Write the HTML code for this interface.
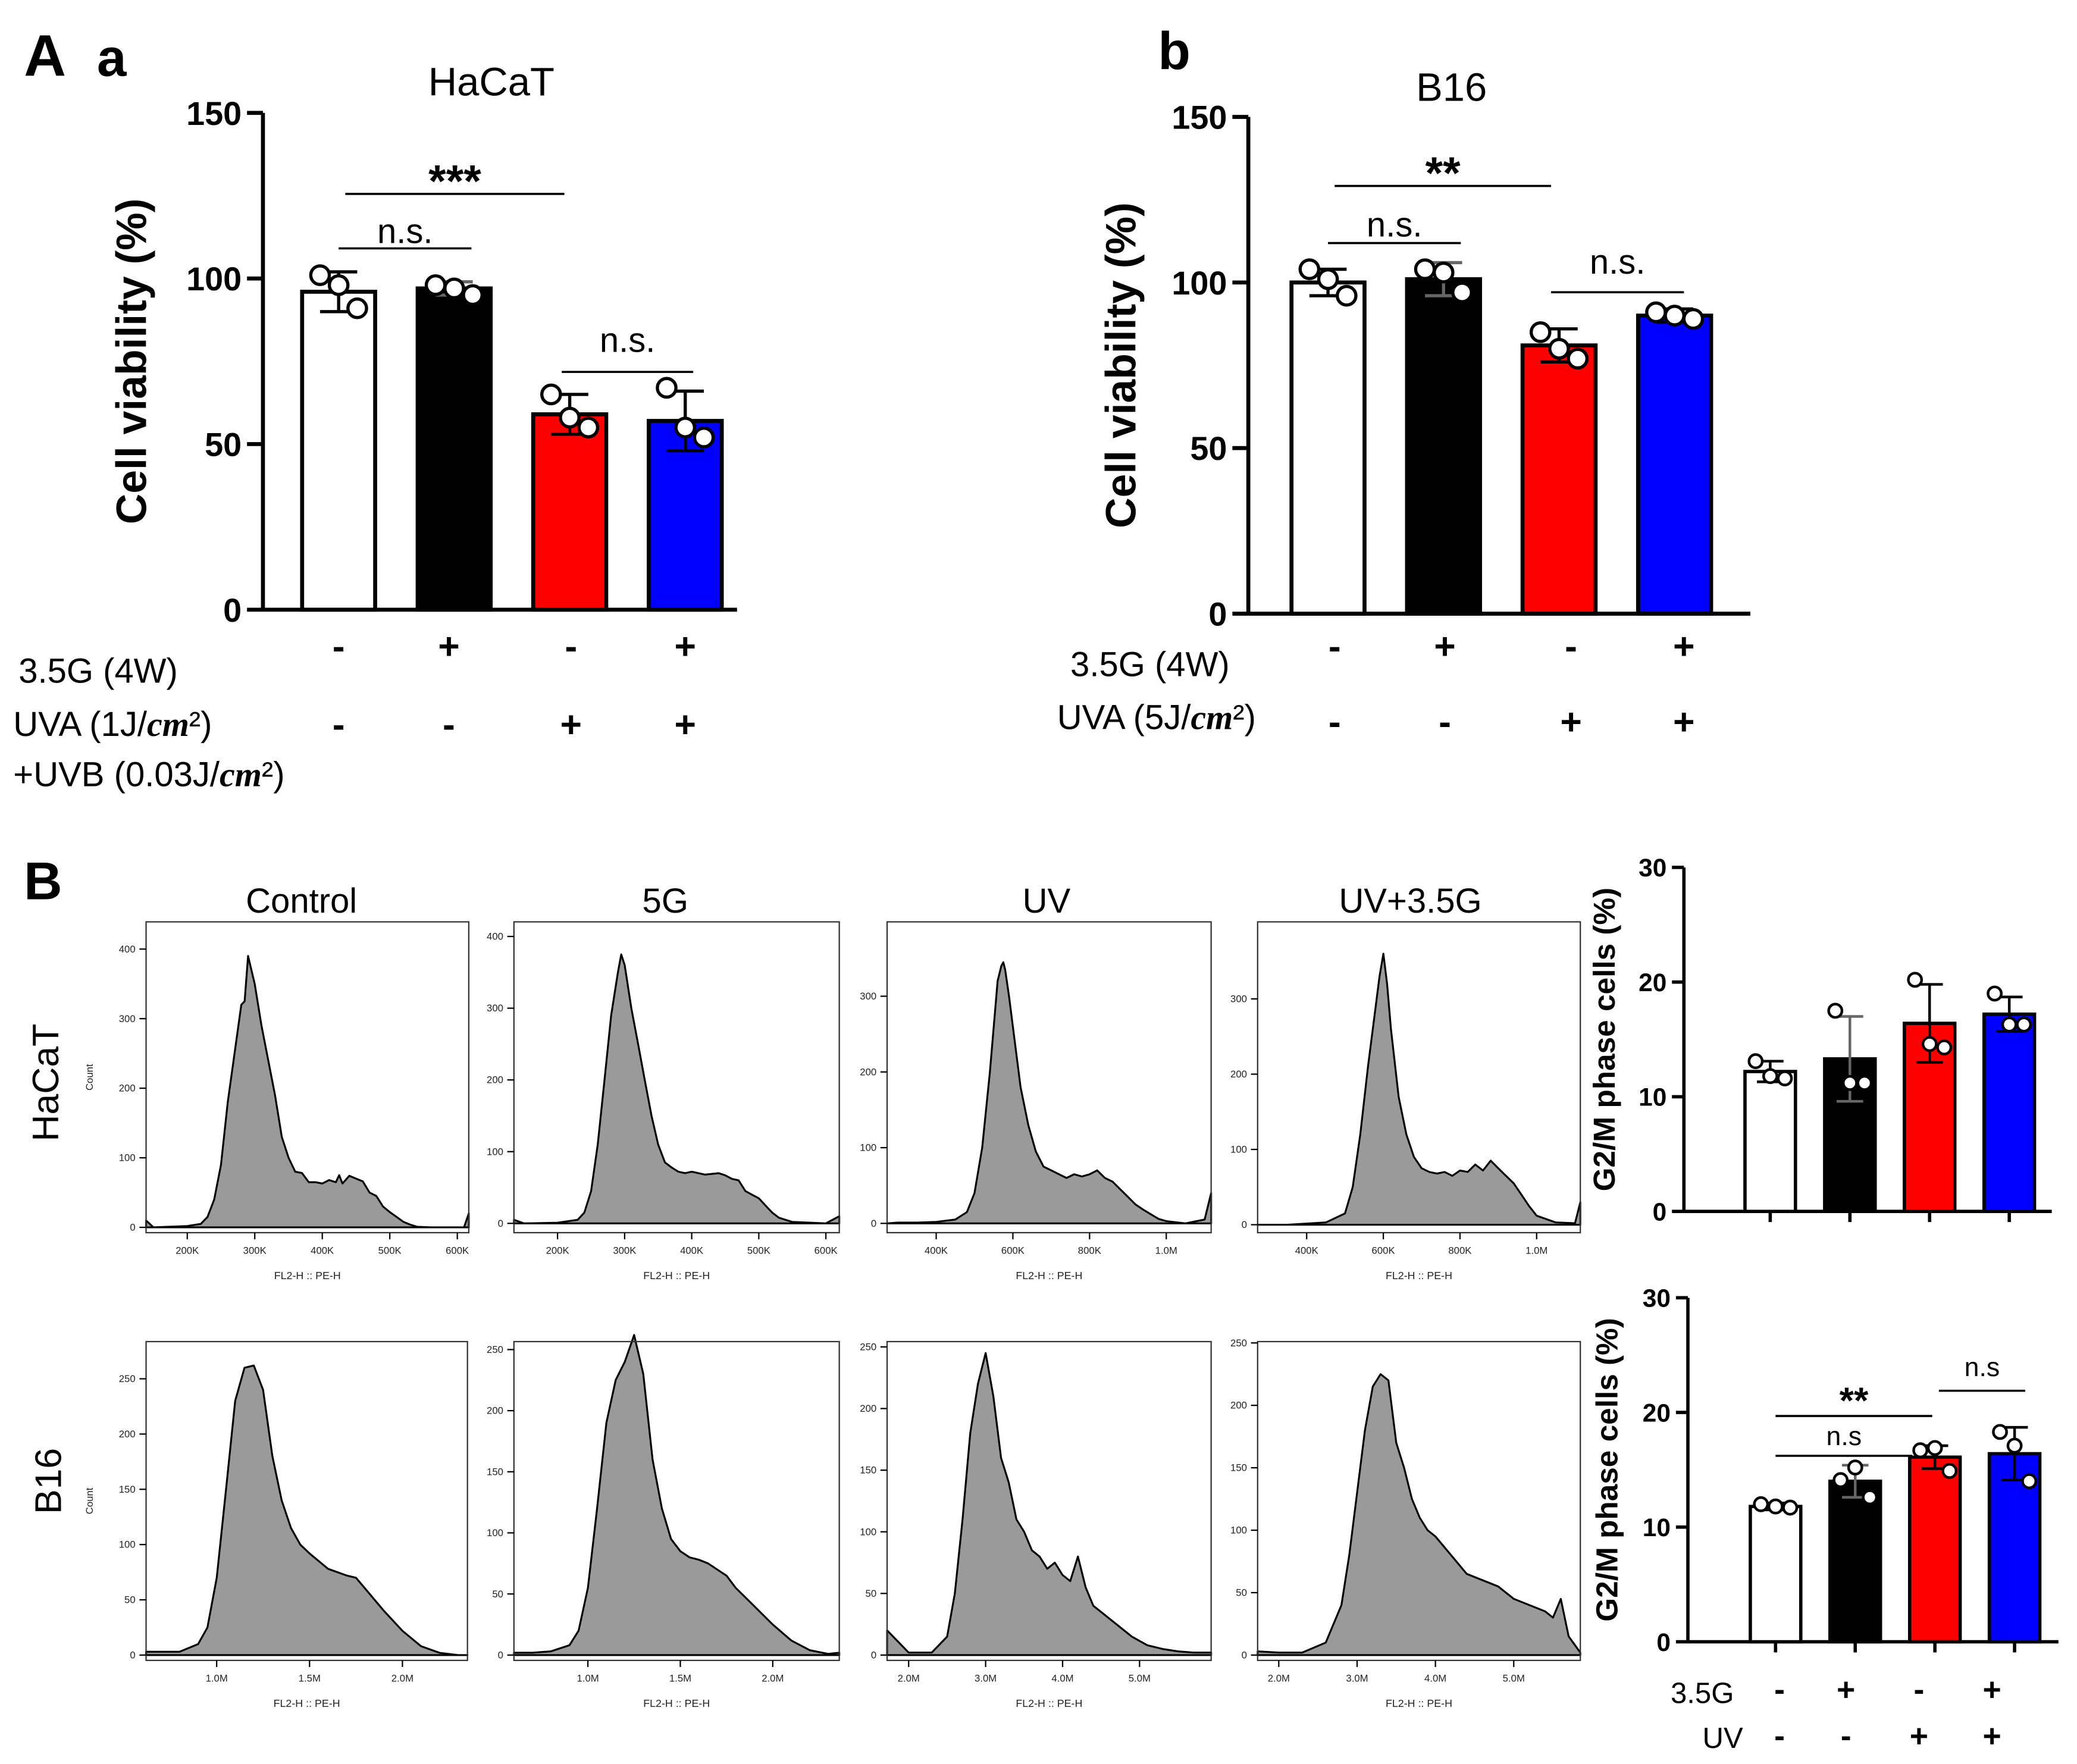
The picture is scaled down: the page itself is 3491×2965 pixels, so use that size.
<!DOCTYPE html>
<html><head><meta charset="utf-8"><style>
html,body{margin:0;padding:0;background:#fff;}
svg{display:block;}
</style></head><body>
<svg id="fig" xmlns="http://www.w3.org/2000/svg" width="3491" height="2965" viewBox="0 0 1564 1328" preserveAspectRatio="none" font-family="'Liberation Sans', Arial, sans-serif">
<rect x="0" y="0" width="1564" height="1328" fill="#fff"/>
<text x="18" y="57" font-size="44" font-weight="bold">A</text>
<text x="73" y="57" font-size="40" font-weight="bold">a</text>
<text x="872" y="52" font-size="40" font-weight="bold">b</text>
<text x="18" y="677" font-size="40" font-weight="bold">B</text>
<text x="370" y="72" font-size="30" text-anchor="middle">HaCaT</text>
<text x="1093" y="76" font-size="30" text-anchor="middle">B16</text>
<text x="14" y="514" font-size="26">3.5G (4W)</text>
<text x="10" y="554" font-size="26">UVA (1J/<tspan font-family="'Liberation Serif',serif" font-style="italic" font-weight="bold">cm</tspan>²)</text>
<text x="10" y="592" font-size="26">+UVB (0.03J/<tspan font-family="'Liberation Serif',serif" font-style="italic" font-weight="bold">cm</tspan>²)</text>
<text x="806" y="509" font-size="26">3.5G (4W)</text>
<text x="796" y="549" font-size="26">UVA (5J/<tspan font-family="'Liberation Serif',serif" font-style="italic" font-weight="bold">cm</tspan>²)</text>
<text x="1258" y="1282" font-size="22">3.5G</text>
<text x="1282" y="1316" font-size="22">UV</text>
<text x="227" y="687" font-size="26" text-anchor="middle">Control</text>
<text x="501" y="687" font-size="26" text-anchor="middle">5G</text>
<text x="788" y="687" font-size="26" text-anchor="middle">UV</text>
<text x="1062" y="687" font-size="26" text-anchor="middle">UV+3.5G</text>
<text transform="translate(44,815) rotate(-90)" font-size="28" text-anchor="middle">HaCaT</text>
<text transform="translate(46,1115) rotate(-90)" font-size="28" text-anchor="middle">B16</text>
<g id="root"></g>
</svg>
<script>
const groupColors = ['#ffffff', '#000000', '#ff0000', '#0000ff'];
const Aa_means = [96, 97, 59, 57];
const Aa_err = [6, 2, 6, 9];
const Aa_pts = [[101, 98, 91], [98, 97, 95], [65, 58, 55], [67, 55, 52]];
const Ab_means = [100, 101, 81, 90];
const Ab_err = [4, 5, 5, 2];
const Ab_pts = [[104, 101, 96], [104, 103, 97], [85, 80, 77], [91, 90, 89]];
const Bt_means = [12.2, 13.3, 16.4, 17.2];
const Bt_err = [0.9, 3.7, 3.4, 1.5];
const Bt_pts = [[13.1, 11.8, 11.6], [17.5, 11.2, 11.2], [20.2, 14.6, 14.3], [19.0, 16.3, 16.3]];
const Bb_means = [11.8, 14.0, 16.1, 16.4];
const Bb_err = [0.3, 1.4, 1.0, 2.3];
const Bb_pts = [[12.0, 11.8, 11.7], [14.1, 15.2, 12.6], [16.7, 16.9, 14.9], [18.3, 17.1, 14.0]];
const ticksA = [0, 50, 100, 150];
const ticksB = [0, 10, 20, 30];
const row35G = ['-', '+', '-', '+'];
const rowUV = ['-', '-', '+', '+'];

const h1_x = [139,150,200,220,230,240,250,260,270,280,285,290,300,310,320,330,340,350,360,370,380,390,400,410,420,425,430,440,450,460,470,480,490,500,510,520,530,540,560,610,617];
const h1_c = [10,0,2,5,15,40,90,180,250,320,325,390,350,290,240,190,130,100,80,78,65,65,63,68,65,75,63,74,70,66,50,45,30,22,15,8,4,1,0,0,20];
const h2_x = [135,150,200,230,240,250,260,270,280,290,295,300,310,320,330,340,350,360,370,380,390,400,420,440,450,460,470,480,490,500,510,520,530,550,600,620];
const h2_c = [5,0,1,5,15,45,110,200,290,350,375,360,300,250,200,150,110,85,78,72,70,72,68,70,67,62,60,45,40,35,25,15,8,2,0,10];
const h3_x = [272,300,350,400,450,480,500,520,540,550,560,570,575,580,590,600,620,640,660,680,700,720,740,760,780,800,820,840,860,880,900,920,940,960,980,1000,1050,1100,1117];
const h3_c = [0,1,1,2,5,15,40,100,200,260,320,340,345,335,300,260,180,130,95,75,70,65,60,65,62,65,70,60,55,45,35,25,18,12,6,3,0,5,40];
const h4_x = [272,350,450,500,520,540,560,580,590,600,610,620,640,660,680,700,720,740,760,780,800,820,840,860,880,900,920,940,960,980,1000,1050,1100,1114];
const h4_c = [0,0,3,15,50,120,210,290,330,360,320,260,170,120,90,75,70,68,70,65,72,70,80,72,85,75,65,55,40,25,12,3,2,30];
const h5_x = [0.62,0.7,0.8,0.9,0.95,1.0,1.05,1.1,1.15,1.2,1.25,1.3,1.35,1.4,1.45,1.5,1.55,1.6,1.65,1.7,1.75,1.8,1.9,2.0,2.1,2.2,2.3,2.35];
const h5_c = [3,3,3,10,25,70,150,230,260,262,240,180,140,115,100,92,85,78,75,72,70,60,40,22,8,2,0,0];
const h6_x = [0.60,0.7,0.8,0.9,0.95,1.0,1.05,1.1,1.15,1.2,1.25,1.3,1.35,1.4,1.45,1.5,1.55,1.6,1.65,1.7,1.75,1.8,1.9,2.0,2.1,2.2,2.3,2.36];
const h6_c = [2,2,3,8,20,55,120,190,225,240,262,230,160,120,95,85,80,78,75,70,65,55,40,25,12,4,1,2];
const h7_x = [1.72,2.0,2.3,2.5,2.6,2.7,2.8,2.9,3.0,3.1,3.2,3.3,3.4,3.5,3.6,3.7,3.8,3.9,4.0,4.1,4.2,4.3,4.4,4.5,4.7,4.9,5.1,5.3,5.5,5.7,5.93];
const h7_c = [20,2,2,15,50,110,180,220,245,210,160,140,110,100,85,80,70,75,65,60,80,55,40,35,25,15,8,5,3,2,2];
const h8_x = [1.73,2.0,2.3,2.6,2.8,2.9,3.0,3.1,3.2,3.3,3.4,3.5,3.6,3.7,3.8,3.9,4.0,4.2,4.4,4.6,4.8,5.0,5.2,5.4,5.5,5.6,5.7,5.85];
const h8_c = [3,2,2,10,40,80,130,180,215,225,220,170,150,125,110,100,95,80,65,60,55,45,40,35,30,45,15,2];
const hK_ticks = [200,300,400,500,600];
const hK_labels = ['200K','300K','400K','500K','600K'];
const hUV_ticks = [400,600,800,1000];
const hUV_labels = ['400K','600K','800K','1.0M'];
const hM_ticks = [1.0,1.5,2.0];
const hM_labels = ['1.0M','1.5M','2.0M'];
const hM2_ticks = [2,3,4,5];
const hM2_labels = ['2.0M','3.0M','4.0M','5.0M'];
const yT400 = [0,100,200,300,400];
const yT300 = [0,100,200,300];
const yT250 = [0,50,100,150,200,250];

const NS = 'http://www.w3.org/2000/svg';
const root = document.getElementById('root');
function mk(tag, attrs, parent) {
  const e = document.createElementNS(NS, tag);
  for (const k in attrs) e.setAttribute(k, attrs[k]);
  (parent || root).appendChild(e);
  return e;
}

function barChart(o) {
  const g = mk('g', {});
  
  
  const ys = v => o.y0 - (v - o.ticks[0]) / (o.ticks[o.ticks.length-1] - o.ticks[0]) * (o.y0 - o.yTop);
  const xs = i => o.x0 + o.first + i * o.step;
  const ya = mk('line', {x1:o.axX, y1:o.yTop, x2:o.axX, y2:o.y0, stroke:'#000', 'stroke-width':o.lw}, g);
  
  
  const xa = mk('line', {x1:o.axX, y1:o.y0, x2:o.xEnd, y2:o.y0, stroke:'#000', 'stroke-width':o.lw}, g);
  
  
  o.ticks.forEach(t => {
    const tl = mk('line', {x1:o.axX - o.tickLen, y1:ys(t), x2:o.axX, y2:ys(t), stroke:'#000', 'stroke-width':o.lw}, g);
    
    
    const tx = mk('text', {x:o.axX - o.tickLen - 4, y:ys(t) + o.fs*0.36, 'font-size':o.fs, 'font-weight':'bold', 'text-anchor':'end'}, g);
    tx.textContent = t;
    
    
  });
  const yl = mk('text', {transform:`translate(${o.ylX},${(o.yTop+o.y0)/2}) rotate(-90)`, 'font-size':o.ylFs, 'font-weight':'bold', 'text-anchor':'middle'}, g);
  yl.textContent = o.ylabel;
  
  
  o.means.forEach((m, i) => {
    const cx = xs(i);
    const b = mk('rect', {x:cx - o.bw/2, y:ys(m), width:o.bw, height:o.y0 - ys(m), fill:groupColors[i], stroke:'#000', 'stroke-width':o.lw}, g);
    
    
    if (o.xticks) {
      const xt = mk('line', {x1:cx, y1:o.y0, x2:cx, y2:o.y0 + 8, stroke:'#000', 'stroke-width':o.lw}, g);
      
      
    }
    const e = o.err[i];
    const eb = mk('path', {d:`M${cx},${ys(m-e)}V${ys(m+e)}M${cx-o.cap},${ys(m+e)}H${cx+o.cap}M${cx-o.cap},${ys(m-e)}H${cx+o.cap}`, stroke: i===1 ? '#666' : '#000', 'stroke-width':o.lw*0.8, fill:'none'}, g);
    
    
    o.pts[i].forEach((p, j) => {
      const c = mk('circle', {cx:cx + (j-1)*o.dx, cy:ys(p), r:o.r, fill:'#fff', stroke:'#000', 'stroke-width':o.lw*0.8}, g);
      
      
    });
  });
  return {g, xs, ys};
}

function sig(g, x1, x2, y, label, fs, ty) {
  const l = mk('line', {x1, y1:y, x2, y2:y, stroke:'#000', 'stroke-width':1.6}, g);
  
  
  const t = mk('text', {x:(x1+x2)/2, y:ty, 'font-size':fs, 'text-anchor':'middle', 'font-weight': label.indexOf('*')>=0 ? 'bold':'normal'}, g);
  t.textContent = label;
  
  
}
function signRow(xsArr, y, arr, fs) {
  arr.forEach((s, i) => {
    const t = mk('text', {x:xsArr[i], y, 'font-size':fs, 'font-weight':'bold', 'text-anchor':'middle'});
    t.textContent = s;
    
    
  });
}

const ca = barChart({name:'chart-hacat-viability', means:Aa_means, err:Aa_err, pts:Aa_pts, ticks:ticksA,
  axX:198, x0:198, first:57, step:87, bw:55, y0:459, yTop:85, xEnd:555, lw:3, tickLen:12, fs:25,
  ylX:110, ylFs:32, ylabel:'Cell viability (%)', cap:14, r:7, dx:14, xticks:false});
sig(ca.g, 260, 425, 146, '***', 34, 148);
sig(ca.g, 255, 355, 187, 'n.s.', 26, 183);
sig(ca.g, 423, 522, 280, 'n.s.', 26, 265);
signRow([255,338,430,516], 496, row35G, 28);
signRow([255,338,430,516], 555, rowUV, 28);

const cb = barChart({name:'chart-b16-viability', means:Ab_means, err:Ab_err, pts:Ab_pts, ticks:ticksA,
  axX:940, x0:940, first:60, step:87, bw:55, y0:462, yTop:88, xEnd:1318, lw:3, tickLen:12, fs:25,
  ylX:855, ylFs:32, ylabel:'Cell viability (%)', cap:14, r:7, dx:14, xticks:false});
sig(cb.g, 1005, 1168, 140, '**', 34, 142);
sig(cb.g, 1000, 1100, 183, 'n.s.', 26, 178);
sig(cb.g, 1168, 1268, 220, 'n.s.', 26, 206);
signRow([1005,1088,1183,1268], 496, row35G, 28);
signRow([1005,1088,1183,1268], 553, rowUV, 28);

barChart({name:'chart-g2m-hacat', means:Bt_means, err:Bt_err, pts:Bt_pts, ticks:ticksB,
  axX:1268, x0:1268, first:65, step:60, bw:38, y0:912, yTop:653, xEnd:1545, lw:2.5, tickLen:9, fs:19,
  ylX:1216, ylFs:23, ylabel:'G2/M phase cells (%)', cap:10, r:5, dx:11, xticks:true});
const cbb = barChart({name:'chart-g2m-b16', means:Bb_means, err:Bb_err, pts:Bb_pts, ticks:ticksB,
  axX:1271, x0:1271, first:66, step:60, bw:38, y0:1236, yTop:977, xEnd:1550, lw:2.5, tickLen:9, fs:19,
  ylX:1218, ylFs:23, ylabel:'G2/M phase cells (%)', cap:10, r:5, dx:11, xticks:true});
sig(cbb.g, 1337, 1455, 1066, '**', 28, 1064);
sig(cbb.g, 1337, 1440, 1096, 'n.s', 20, 1088);
sig(cbb.g, 1460, 1525, 1047, 'n.s', 20, 1036);
signRow([1340,1390,1445,1500], 1280, row35G, 24);
signRow([1340,1390,1445,1500], 1315, rowUV, 24);

function hist(o) {
  const g = mk('g', {});
  
  
  const xs = v => o.bx + (v - o.xd0) / (o.xd1 - o.xd0) * o.bw;
  const ys = v => o.y0 - v / o.yRef * (o.y0 - o.yRefPx);
  let d = `M${xs(o.xv[0])},${o.y0}`;
  o.cv.forEach((c, i) => { d += `L${xs(o.xv[i]).toFixed(1)},${ys(c).toFixed(1)}`; });
  d += `L${xs(o.xv[o.xv.length-1])},${o.y0}Z`;
  const p = mk('path', {d, fill:'#9a9a9a', stroke:'#000', 'stroke-width':1.4, 'stroke-linejoin':'round'}, g);
  
  
  const box = mk('rect', {x:o.bx, y:o.by, width:o.bw, height:o.bh, fill:'none', stroke:'#333', 'stroke-width':1}, g);
  
  
  o.yt.forEach(t => {
    const l = mk('line', {x1:o.bx-5, y1:ys(t), x2:o.bx, y2:ys(t), stroke:'#000', 'stroke-width':1}, g);
    
    
    const tx = mk('text', {x:o.bx-8, y:ys(t)+2.5, 'font-size':7.5, 'text-anchor':'end', fill:'#222'}, g);
    tx.textContent = t;
    
    
  });
  o.xt.forEach((t, i) => {
    const l = mk('line', {x1:xs(t), y1:o.by+o.bh, x2:xs(t), y2:o.by+o.bh+5, stroke:'#000', 'stroke-width':1}, g);
    
    
    const tx = mk('text', {x:xs(t), y:o.by+o.bh+16, 'font-size':7.5, 'text-anchor':'middle', fill:'#222'}, g);
    tx.textContent = o.xl[i];
    
    
  });
  const xl = mk('text', {x:o.bx+o.bw/2, y:o.by+o.bh+35, 'font-size':8, 'text-anchor':'middle', fill:'#222'}, g);
  xl.textContent = 'FL2-H :: PE-H';
  
  
  if (o.count) {
    const cl = mk('text', {transform:`translate(${o.bx-40},${o.by+o.bh/2}) rotate(-90)`, 'font-size':7.5, 'text-anchor':'middle', fill:'#222'}, g);
    cl.textContent = 'Count';
    
    
  }
}
hist({name:'hist-hacat-control', xv:h1_x, cv:h1_c, xd0:139, xd1:617, bx:110, by:694, bw:243, bh:234, y0:924, yRef:400, yRefPx:714.5, yt:yT400, xt:hK_ticks, xl:hK_labels, count:true});
hist({name:'hist-hacat-5g', xv:h2_x, cv:h2_c, xd0:135, xd1:620, bx:387, by:694, bw:245, bh:234, y0:921, yRef:400, yRefPx:705, yt:yT400, xt:hK_ticks, xl:hK_labels});
hist({name:'hist-hacat-uv', xv:h3_x, cv:h3_c, xd0:272, xd1:1117, bx:668, by:694, bw:244, bh:234, y0:921, yRef:300, yRefPx:750, yt:yT300, xt:hUV_ticks, xl:hUV_labels});
hist({name:'hist-hacat-uv35g', xv:h4_x, cv:h4_c, xd0:272, xd1:1114, bx:947, by:694, bw:243, bh:234, y0:922, yRef:300, yRefPx:752, yt:yT300, xt:hUV_ticks, xl:hUV_labels});
hist({name:'hist-b16-control', xv:h5_x, cv:h5_c, xd0:0.62, xd1:2.35, bx:110, by:1010, bw:242, bh:240, y0:1246, yRef:250, yRefPx:1038, yt:yT250, xt:hM_ticks, xl:hM_labels, count:true});
hist({name:'hist-b16-5g', xv:h6_x, cv:h6_c, xd0:0.60, xd1:2.36, bx:387, by:1010, bw:245, bh:240, y0:1246, yRef:250, yRefPx:1016, yt:yT250, xt:hM_ticks, xl:hM_labels});
hist({name:'hist-b16-uv', xv:h7_x, cv:h7_c, xd0:1.72, xd1:5.93, bx:668, by:1010, bw:244, bh:240, y0:1246, yRef:250, yRefPx:1014, yt:yT250, xt:hM2_ticks, xl:hM2_labels});
hist({name:'hist-b16-uv35g', xv:h8_x, cv:h8_c, xd0:1.73, xd1:5.85, bx:947, by:1010, bw:243, bh:240, y0:1246, yRef:250, yRefPx:1011, yt:yT250, xt:hM2_ticks, xl:hM2_labels});
</script>
</body></html>
